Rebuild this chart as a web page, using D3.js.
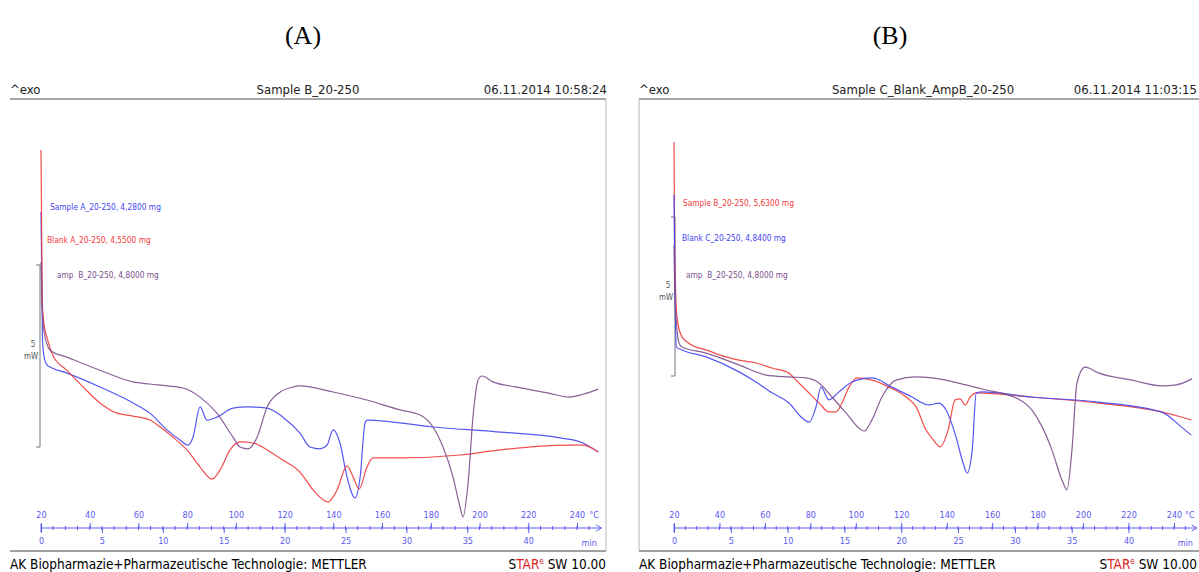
<!DOCTYPE html>
<html>
<head>
<meta charset="utf-8">
<script src="https://cdn.jsdelivr.net/npm/d3@7/dist/d3.min.js"></script>
<style>
  body { margin: 0; background: #fff; }
  svg { display: block; }
  text { font-family: "DejaVu Sans Condensed", "DejaVu Sans", sans-serif; }
</style>
</head>
<body>
<div id="chart"></div>
<script>
// ---- data: [temperature °C, heat flow mW] ----
const tempTicks = [20, 40, 60, 80, 100, 120, 140, 160, 180, 200, 220, 240];
const timeTicks = [0, 5, 10, 15, 20, 25, 30, 35, 40];
const startTemp = 20;   // °C at t = 0
const heatingRate = 5;  // K/min

// panel A
const sampleA = [[20,6.46],[20.6,3.0],[21.2,2.5],[22.5,2.25],[23.7,2.2],[30.7,2.03],[44.2,1.65],[57.8,1.21],
  [64.7,0.93],[71.7,0.47],[77.1,0.19],[80.3,0.05],[82.4,0.27],[85.3,1.10],[88.1,0.74],[92.2,0.82],[98.8,1.07],
  [104.5,1.10],[112.8,1.07],[119.3,0.82],[126.3,0.38],[130.4,0.0],[134.5,-0.05],[137.4,0.05],[139.9,0.47],
  [142.7,0.11],[145.6,-0.82],[148.9,-1.40],[151.0,-0.82],[153.0,0.66],[153.8,0.74],[180.9,0.55],[208.4,0.41],
  [233.1,0.25],[242.5,0.11],[248.7,-0.14]];
const blankA = [[20,8.16],[20.5,4.0],[21.2,3.4],[22.5,3.0],[25.0,2.5],[30.7,2.1],[37.3,1.65],[44.2,1.21],
  [51.2,0.93],[57.8,0.85],[64.7,0.74],[68.9,0.55],[74.2,0.27],[79.9,-0.08],[85.3,-0.55],[90.2,-0.88],
  [93.5,-0.63],[97.6,-0.08],[101.7,0.14],[107.1,0.11],[112.8,-0.08],[119.3,-0.36],[126.3,-0.69],[131.7,-1.18],
  [137.8,-1.51],[141.5,-1.18],[145.6,-0.52],[148.1,-0.82],[150.6,-1.15],[153.8,-0.55],[156.3,-0.30],
  [167.4,-0.30],[192.0,-0.22],[208.4,-0.08],[235.9,0.05],[242.5,0.05],[248.7,-0.14]];
const ampA = [[20,5.08],[20.4,4.0],[21.2,3.2],[22.9,2.75],[23.7,2.66],[30.7,2.47],[44.2,2.11],[57.8,1.79],
  [64.7,1.73],[71.7,1.68],[78.3,1.62],[85.3,1.37],[92.2,0.93],[98.8,0.27],[101.7,0.0],[105.0,-0.05],
  [108.7,0.27],[112.8,1.10],[118.2,1.51],[123.5,1.65],[126.3,1.68],[139.9,1.51],[153.8,1.29],[167.4,1.02],
  [175.6,0.88],[180.9,0.55],[185.0,0.0],[189.1,-0.82],[192.0,-1.65],[193.2,-1.92],[195.3,-0.99],[197.3,0.82],
  [199.4,1.84],[201.0,1.95],[205.5,1.79],[214.9,1.65],[228.4,1.48],[236.6,1.37],[242.5,1.45],[248.7,1.59]];

// panel B
const sampleB = [[20,7.36],[20.3,4.0],[21.3,1.86],[23.5,1.23],[27.9,0.97],[34.1,0.82],[42.9,0.60],[48.6,0.50],
  [56.1,0.41],[63.1,0.25],[70.6,0.09],[73.7,-0.13],[78.1,-0.44],[83.8,-0.85],[88.2,-1.13],[91.3,-1.13],
  [93.9,-0.85],[97.0,-0.35],[100.5,-0.06],[107.1,-0.13],[114.6,-0.35],[122.1,-0.66],[126.5,-0.97],
  [130.9,-1.70],[134.1,-2.01],[137.1,-2.23],[140.6,-1.70],[143.7,-0.75],[145.9,-0.72],[148.1,-0.91],
  [150.3,-0.66],[153.0,-0.53],[177.2,-0.66],[206.7,-0.85],[234.4,-1.13],[243.2,-1.29],[247.6,-1.38]];
const blankC = [[20,5.69],[20.3,3.5],[21.1,0.91],[23.5,0.82],[34.1,0.60],[48.6,0.13],[56.1,-0.19],[63.1,-0.53],
  [70.6,-0.85],[76.4,-1.32],[79.5,-1.45],[82.5,-0.97],[84.7,-0.35],[88.2,-0.75],[92.6,-0.50],[98.3,-0.19],
  [107.1,-0.06],[115.9,-0.35],[124.7,-0.66],[132.2,-0.91],[136.6,-0.85],[139.7,-1.07],[144.1,-1.92],
  [146.8,-2.64],[149.0,-3.05],[151.2,-2.33],[153.0,-0.53],[155.7,-0.50],[177.2,-0.66],[206.7,-0.82],
  [234.4,-1.13],[243.2,-1.60],[247.6,-1.86]];
const ampB = [[20,4.12],[20.4,2.5],[22.2,1.04],[23.5,0.91],[34.1,0.72],[48.6,0.35],[60.5,0.03],[70.6,-0.03],
  [78.1,-0.06],[83.8,-0.22],[89.5,-0.66],[95.7,-1.16],[101.4,-1.64],[103.6,-1.73],[107.1,-1.38],[111.5,-0.66],
  [117.7,-0.13],[126.5,-0.03],[133.5,-0.06],[148.5,-0.28],[155.5,-0.41],[170.5,-0.69],[177.5,-1.07],
  [182.0,-1.60],[186.3,-2.33],[190.7,-3.27],[192.9,-3.58],[195.1,-2.33],[197.3,-0.22],[200.8,0.28],
  [207.0,0.09],[221.5,-0.13],[234.7,-0.31],[240.9,-0.28],[247.9,-0.09]];

const BLUE = '#4444f2', RED = '#f23a3a', PURPLE = '#7c4f8e';
const AXIS = '#5a5af0';

const svg = d3.select('#chart').append('svg')
  .attr('width', 1199).attr('height', 572);

// captions
svg.append('text').attr('x', 303).attr('y', 44).attr('text-anchor', 'middle')
  .style('font-family', '"Liberation Serif", "DejaVu Serif", serif').style('font-size', '26px').text('(A)');
svg.append('text').attr('x', 890).attr('y', 44).attr('text-anchor', 'middle')
  .style('font-family', '"Liberation Serif", "DejaVu Serif", serif').style('font-size', '26px').text('(B)');

const panels = [
  {
    left: 10, right: 606, xStart: 41, xEnd: 577, yZero: 447, yFive: 265, barX: 40,
    border: 606,
    title: 'Sample B_20-250', titleX: 308, date: '06.11.2014 10:58:24', dateX: 607,
    starX: 606,
    series: [
      {data: sampleA, color: BLUE, label: 'Sample A_20-250, 4,2800 mg', lx: 50, ly: 210},
      {data: blankA, color: RED, label: 'Blank A_20-250, 4,5500 mg', lx: 47, ly: 243},
      {data: ampA, color: PURPLE, label: 'amp  B_20-250, 4,8000 mg', lx: 57, ly: 278}
    ]
  },
  {
    left: 639, right: 1199, xStart: 674, xEnd: 1174, yZero: 376, yFive: 217, barX: 675,
    border: 639,
    title: 'Sample C_Blank_AmpB_20-250', titleX: 923, date: '06.11.2014 11:03:15', dateX: 1197,
    starX: 1197,
    series: [
      {data: sampleB, color: RED, label: 'Sample B_20-250, 5,6300 mg', lx: 683, ly: 206},
      {data: blankC, color: BLUE, label: 'Blank C_20-250, 4,8400 mg', lx: 682, ly: 241},
      {data: ampB, color: PURPLE, label: 'amp  B_20-250, 4,8000 mg', lx: 686, ly: 278}
    ]
  }
];

panels.forEach(p => {
  const g = svg.append('g');

  const x = d3.scaleLinear().domain([20, 240]).range([p.xStart, p.xEnd]);
  const t = d3.scaleLinear()
    .domain([0, (240 - startTemp) / heatingRate])
    .range([x(startTemp), x(240)]);
  const y = d3.scaleLinear().domain([0, 5]).range([p.yZero, p.yFive]);

  // header
  g.append('text').attr('x', p.left).attr('y', 94).style('font-size', '13px').attr('fill', '#222').text('^exo');
  g.append('text').attr('x', p.titleX).attr('y', 94).attr('text-anchor', 'middle')
    .style('font-size', '13px').attr('fill', '#222').text(p.title);
  g.append('text').attr('x', p.dateX).attr('y', 94).attr('text-anchor', 'end')
    .style('font-size', '13px').attr('fill', '#222').text(p.date);
  g.append('line').attr('x1', p.left).attr('x2', p.right).attr('y1', 99).attr('y2', 99)
    .attr('stroke', '#a8a8a8').attr('stroke-width', 2);

  // frame side and footer line
  g.append('line').attr('x1', p.border).attr('x2', p.border).attr('y1', 99).attr('y2', 551)
    .attr('stroke', '#b8b8b8').attr('stroke-width', 1);
  g.append('line').attr('x1', p.left).attr('x2', p.right).attr('y1', 551).attr('y2', 551)
    .attr('stroke', '#a0a0a0').attr('stroke-width', 2);

  // footer
  g.append('text').attr('x', p.left).attr('y', 569).style('font-size', '13.5px').attr('fill', '#000')
    .text('AK Biopharmazie+Pharmazeutische Technologie: METTLER');
  const star = g.append('text').attr('x', p.starX).attr('y', 569).attr('text-anchor', 'end')
    .style('font-size', '13.5px').attr('fill', '#000');
  star.append('tspan').text('S');
  star.append('tspan').attr('fill', '#e02020').text('TAR');
  star.append('tspan').attr('fill', '#e02020').attr('dy', -5).style('font-size', '8px').text('e');
  star.append('tspan').attr('dy', 5).text(' SW 10.00');

  // scale bar (5 mW)
  const bar = g.append('g').attr('stroke', '#777').attr('fill', 'none');
  bar.append('line').attr('x1', p.barX).attr('x2', p.barX).attr('y1', y(0)).attr('y2', y(5));
  bar.append('line').attr('x1', p.barX - 4).attr('x2', p.barX).attr('y1', y(0)).attr('y2', y(0));
  bar.append('line').attr('x1', p.barX - 4).attr('x2', p.barX).attr('y1', y(5)).attr('y2', y(5));
  g.append('text').attr('x', p.barX - 7).attr('y', y(2.5) - 9).attr('text-anchor', 'middle')
    .style('font-size', '8px').attr('fill', '#555').text('5');
  g.append('text').attr('x', p.barX - 9).attr('y', y(2.5) + 3).attr('text-anchor', 'middle')
    .style('font-size', '8px').attr('fill', '#555').text('mW');

  // curves
  const line = d3.line()
    .x(d => x(d[0]))
    .y(d => y(d[1]))
    .curve(d3.curveMonotoneX);
  p.series.forEach(s => {
    g.append('path').datum(s.data)
      .attr('d', line)
      .attr('fill', 'none')
      .attr('stroke', s.color)
      .attr('stroke-width', 1.2)
      .attr('stroke-opacity', 0.9);
    g.append('text').attr('x', s.lx).attr('y', s.ly)
      .style('font-size', '8.3px').style('white-space', 'pre')
      .attr('fill', s.color).text(s.label);
  });

  // temperature / time axis
  const axisY = 528;
  const ax = g.append('g').attr('transform', `translate(0,${axisY})`);
  ax.append('line').attr('x1', x(startTemp)).attr('x2', x(250)).attr('stroke', AXIS);
  ax.append('path')
    .attr('d', `M${x(250) - 5},-3L${x(250)},0L${x(250) - 5},3`)
    .attr('fill', 'none').attr('stroke', AXIS);
  ax.append('line').attr('x1', x(startTemp)).attr('x2', x(startTemp)).attr('y1', -4).attr('y2', 4)
    .attr('stroke', AXIS);

  // minor ticks every minute
  ax.selectAll('.minor').data(d3.range(1, 46)).enter().append('line')
    .attr('x1', d => t(d)).attr('x2', d => t(d)).attr('y1', -2).attr('y2', 2)
    .attr('stroke', AXIS);

  const tempAxis = d3.axisTop(x).tickValues(tempTicks).tickSize(5).tickPadding(5).tickFormat(d3.format('d'));
  const timeAxis = d3.axisBottom(t).tickValues(timeTicks).tickSize(5).tickPadding(5).tickFormat(d3.format('d'));
  const gt = ax.append('g').call(tempAxis);
  const gm = ax.append('g').call(timeAxis);
  [gt, gm].forEach(a => {
    a.select('.domain').remove();
    a.selectAll('line').attr('stroke', AXIS);
    a.selectAll('text').attr('fill', AXIS).style('font-size', '9px')
      .style('font-family', '"DejaVu Sans Condensed", "DejaVu Sans", sans-serif');
  });
  ax.append('text').attr('x', x(247)).attr('y', -10).attr('text-anchor', 'middle')
    .style('font-size', '9px').attr('fill', AXIS).text('°C');
  ax.append('text').attr('x', x(245)).attr('y', 18).attr('text-anchor', 'middle')
    .style('font-size', '9px').attr('fill', AXIS).text('min');
});
</script>
</body>
</html>
